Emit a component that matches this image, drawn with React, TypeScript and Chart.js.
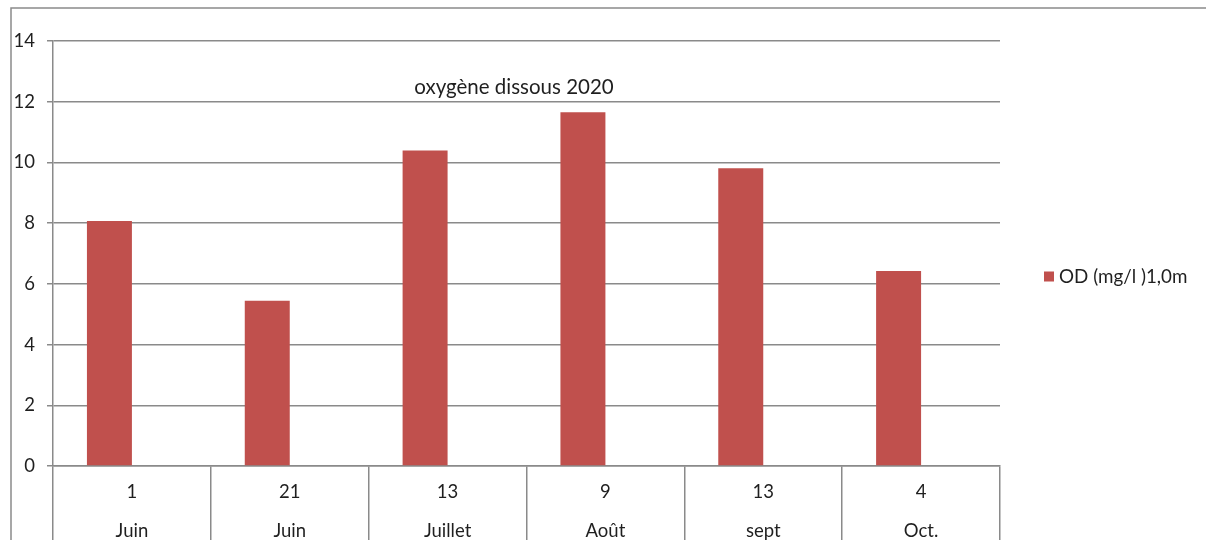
import React, { useEffect, useRef } from "react";
import { Chart, registerables } from "chart.js";

Chart.register(...registerables);

const days = ["1", "21", "13", "9", "13", "4"];
const months = ["Juin", "Juin", "Juillet", "Août", "sept", "Oct."];
const odValues = [8.07, 5.44, 10.39, 11.65, 9.81, 6.42];
const emptySeries = [null, null, null, null, null, null];
const yTicks = [0, 2, 4, 6, 8, 10, 12, 14];
const seriesLabel = "OD (mg/l )1,0m";
const titleText = "oxygène dissous 2020";

const FONT = "Lato, 'Open Sans', sans-serif";
const GRID = "#8a8a8a";
const TEXT = "#1f1f1f";
const BAR = "#C0504D";

const decorPlugin = {
  id: "decor",
  beforeDraw(chart: any) {
    const ctx = chart.ctx;
    ctx.save();
    ctx.strokeStyle = GRID;
    ctx.lineWidth = 1.5;
    ctx.strokeRect(11, 8, 1300, 700);
    ctx.restore();
  },
  afterDraw(chart: any) {
    const ctx = chart.ctx;
    const ca = chart.chartArea;
    ctx.save();
    // title inside the plot area
    ctx.fillStyle = TEXT;
    ctx.font = `20.5px ${FONT}`;
    ctx.textAlign = "center";
    ctx.textBaseline = "middle";
    ctx.fillText(titleText, 514, 87);
    // legend
    const ds = chart.data.datasets[0];
    const ly = (ca.top + ca.bottom) / 2 + 23;
    ctx.fillStyle = ds.backgroundColor;
    ctx.fillRect(1044, ly - 5, 10, 10);
    ctx.fillStyle = TEXT;
    ctx.font = `18.8px ${FONT}`;
    ctx.textAlign = "left";
    ctx.fillText(ds.label, 1059, ly);
    ctx.restore();
  },
};

export default function App() {
  const ref = useRef<HTMLCanvasElement>(null);
  useEffect(() => {
    const labels = days.map((d, i) => [d, months[i]]);
    const chart = new Chart(ref.current!, {
      type: "bar",
      data: {
        labels,
        datasets: [
          {
            label: seriesLabel,
            data: odValues,
            backgroundColor: BAR,
            borderWidth: 0,
            categoryPercentage: 0.57,
            barPercentage: 1,
          },
          {
            label: "",
            data: emptySeries as any,
            backgroundColor: BAR,
            categoryPercentage: 0.57,
            barPercentage: 1,
          },
        ],
      },
      options: {
        animation: false,
        responsive: false,
        maintainAspectRatio: false,
        layout: { padding: { left: 0, top: 41, right: 206, bottom: 0 } },
        plugins: {
          legend: { display: false },
          title: { display: false },
          tooltip: { enabled: false },
        },
        scales: {
          x: {
            offset: true,
            grid: {
              offset: true,
              drawOnChartArea: false,
              drawTicks: true,
              tickLength: 90,
              color: GRID,
              lineWidth: 1.5,
            },
            border: { display: true, color: GRID, width: 1.5 },
            ticks: {
              padding: -83,
              color: TEXT,
              font: { family: FONT, size: 18.5, lineHeight: 2.1 },
              maxRotation: 0,
              autoSkip: false,
            },
            afterFit: (scale: any) => {
              scale.height = 114;
            },
          },
          y: {
            min: 0,
            max: 14,
            afterBuildTicks: (scale: any) => {
              scale.ticks = yTicks.map((v) => ({ value: v }));
            },
            grid: {
              color: GRID,
              lineWidth: 1.5,
              drawTicks: true,
              tickLength: 6,
            },
            border: { display: true, color: GRID, width: 1.5 },
            ticks: {
              padding: 12,
              color: TEXT,
              font: { family: FONT, size: 18.5 },
            },
            afterFit: (scale: any) => {
              scale.width = 53;
            },
          },
        },
      },
      plugins: [decorPlugin],
    });
    return () => chart.destroy();
  }, []);
  return (
    <div
      style={{
        position: "fixed",
        left: 0,
        top: 0,
        width: 1206,
        height: 540,
        overflow: "hidden",
        background: "#fff",
      }}
    >
      <canvas ref={ref} width={1206} height={580} style={{ display: "block" }} />
    </div>
  );
}
